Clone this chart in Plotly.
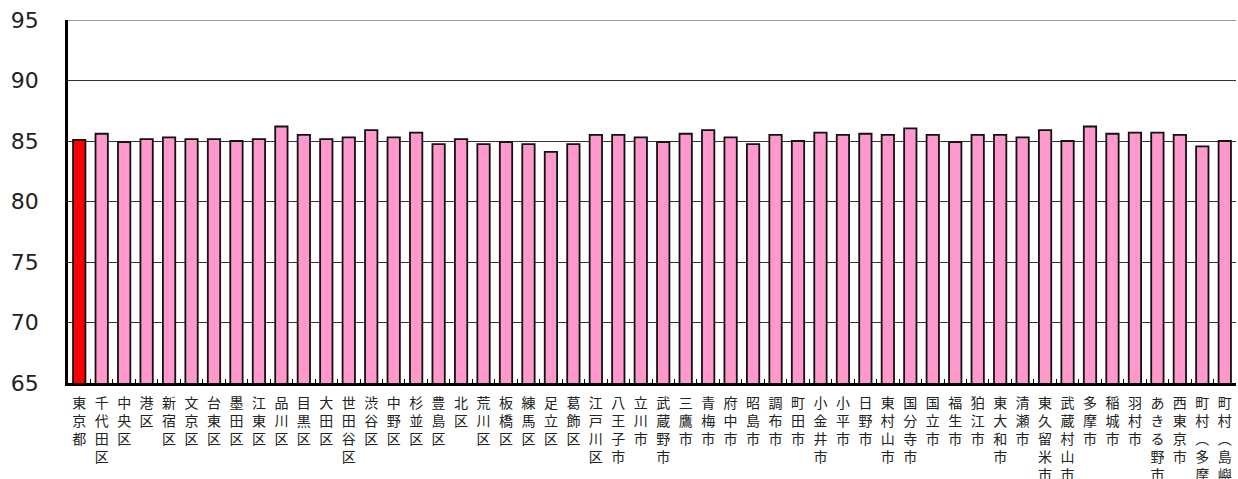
import plotly.graph_objects as go

categories = [
    "東京都", "千代田区", "中央区", "港区", "新宿区", "文京区", "台東区", "墨田区",
    "江東区", "品川区", "目黒区", "大田区", "世田谷区", "渋谷区", "中野区", "杉並区",
    "豊島区", "北区", "荒川区", "板橋区", "練馬区", "足立区", "葛飾区", "江戸川区",
    "八王子市", "立川市", "武蔵野市", "三鷹市", "青梅市", "府中市", "昭島市", "調布市",
    "町田市", "小金井市", "小平市", "日野市", "東村山市", "国分寺市", "国立市", "福生市",
    "狛江市", "東大和市", "清瀬市", "東久留米市", "武蔵村山市", "多摩市", "稲城市",
    "羽村市", "あきる野市", "西東京市", "町村︵多摩︶", "町村︵島嶼︶",
]

values = [
    85.1, 85.6, 84.9, 85.15, 85.3, 85.15, 85.15, 85.0,
    85.15, 86.2, 85.5, 85.15, 85.3, 85.9, 85.3, 85.7,
    84.75, 85.15, 84.75, 84.9, 84.75, 84.1, 84.75, 85.5,
    85.5, 85.3, 84.9, 85.6, 85.9, 85.3, 84.75, 85.5,
    85.0, 85.7, 85.5, 85.6, 85.5, 86.05, 85.5, 84.9,
    85.5, 85.5, 85.3, 85.9, 85.0, 86.2, 85.6,
    85.7, 85.7, 85.5, 84.55, 85.0,
]

y_ticks = [65, 70, 75, 80, 85, 90, 95]

colors = ["#FF0000"] + ["#FF99CC"] * (len(categories) - 1)
labels = ["<br>".join(list(c)) for c in categories]

fig = go.Figure(
    go.Bar(
        x=categories,
        y=values,
        marker=dict(color=colors, line=dict(color="#111111", width=1.8)),
        width=0.55,
    )
)

fig.update_layout(
    width=1238,
    height=479,
    margin=dict(l=68, r=2, t=20, b=96, autoexpand=False),
    plot_bgcolor="white",
    paper_bgcolor="white",
    showlegend=False,
    font=dict(family="Noto Sans CJK JP", color="#222"),
)

# top gridline at the maximum of the value axis
fig.add_shape(type="line", xref="paper", yref="y", x0=0, x1=1,
              y0=y_ticks[-1], y1=y_ticks[-1], line=dict(color="#333333", width=1.2))

fig.update_xaxes(
    type="category",
    automargin=False,
    tickmode="array",
    tickvals=categories,
    ticktext=labels,
    tickfont=dict(size=14, family="Noto Sans CJK JP", color="#222"),
    tickangle=0,
    ticklabelstandoff=5,
    showline=True,
    linecolor="black",
    linewidth=2.5,
    ticks="inside",
    tickson="boundaries",
    ticklen=4,
    tickcolor="black",
    showgrid=False,
    range=[-0.5, len(categories) - 0.5],
)

fig.update_yaxes(
    automargin=False,
    range=[y_ticks[0], y_ticks[-1]],
    tickvals=y_ticks,
    tickfont=dict(size=22, family="DejaVu Sans", color="#222"),
    showline=True,
    linecolor="black",
    linewidth=2.5,
    showgrid=True,
    gridcolor="#333333",
    gridwidth=1.2,
    ticks="",
    ticklabelstandoff=22,
    zeroline=False,
)

fig.write_html(
    "out.html",
    config={"displayModeBar": False},
    post_script="document.body.style.margin='0';document.body.style.overflow='hidden';",
)
